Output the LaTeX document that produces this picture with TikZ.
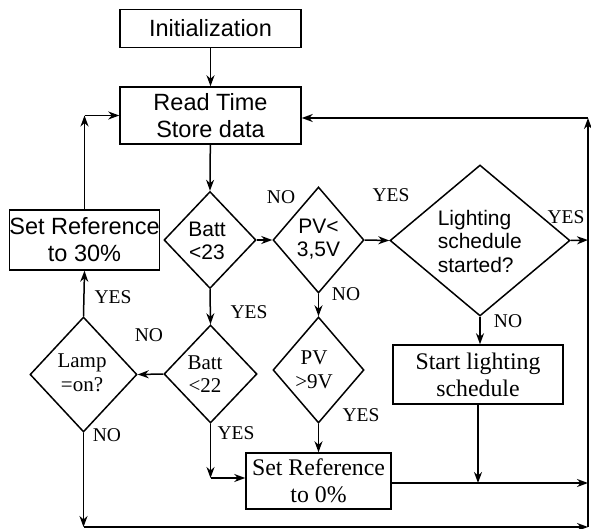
\documentclass[tikz,border=0pt]{standalone}
\usepackage{fontspec}
\setmainfont{Liberation Serif}
\newfontfamily\arialfont{Liberation Sans}
\usetikzlibrary{shapes.geometric,arrows.meta}
\begin{document}
\begin{tikzpicture}[x=1pt,y=-1pt,
  line width=1.5pt,
  arr/.style={-{Stealth[length=11pt,width=8pt,inset=3.5pt]}},
  boxA/.style={draw,rectangle,inner sep=0pt,font=\arialfont\fontsize{23.5}{27}\selectfont,align=center},
  boxT/.style={draw,rectangle,inner sep=0pt,font=\fontsize{23.8}{27}\selectfont,align=center},
  dia/.style={draw,diamond,inner sep=0pt},
  dtxtA/.style={inner sep=0pt,font=\arialfont\fontsize{21}{23.5}\selectfont,align=center},
  dtxtT/.style={inner sep=0pt,font=\fontsize{21}{23.5}\selectfont,align=center},
  lbl/.style={inner sep=0pt,font=\fontsize{19.5}{21}\selectfont}
]
\useasboundingbox (0,0) rectangle (591,529);

% boxes
\node[boxA,minimum width=181pt,minimum height=38pt] (init) at (210.5,28.5) {Initialization};
\node[boxA,minimum width=181pt,minimum height=57pt] (read) at (210.5,115.5) {Read Time\\Store data};
\node[boxA,minimum width=145pt,minimum height=60pt] (ref30) at (84.5,240) {Set Reference\\to 30\%};
\node[boxT,minimum width=170pt,minimum height=59pt] (start) at (478,374.5) {Start lighting\\schedule};
\node[boxT,minimum width=145pt,minimum height=56pt] (ref0) at (318.5,481) {Set Reference\\to 0\%};

% diamonds
\node[dia,minimum width=92pt,minimum height=97pt] (b23) at (210,240) {};
\node[dtxtA] at (207,241) {Batt\\<23};
\node[dia,minimum width=91pt,minimum height=106pt] (pv35) at (318.5,240) {};
\node[dtxtA] at (318.5,239) {PV<\\3,5V};
\node[dia,minimum width=180pt,minimum height=151pt] (light) at (480,240.5) {};
\node[dtxtA,align=left,anchor=west] at (437,241) {Lighting\\schedule\\started?};
\node[dia,minimum width=91pt,minimum height=106pt] (pv9) at (318.5,370) {};
\node[dtxtT] at (314,370) {PV\\>9V};
\node[dia,minimum width=93pt,minimum height=98pt] (b22) at (210.5,374) {};
\node[dtxtT] at (205,374) {Batt\\<22};
\node[dia,minimum width=107pt,minimum height=115pt] (lamp) at (83.5,374.5) {};
\node[dtxtT] at (82,373) {Lamp\\=on?};

% corner coordinates
\coordinate (c30) at (ref30.north |- read.west);
\coordinate (rtop) at (588,118);
\coordinate (rbot) at (588,527);
\coordinate (lbot) at (lamp.south |- rbot);
\coordinate (b22c) at (210.5,478);
\coordinate (ref0r) at (588,483);
\coordinate (lightr) at (588,240);
\coordinate (startb) at (start.south |- ref0r);

% connectors
\draw[arr] (init) -- (read);
\draw[arr] (read) -- (b23.north);
\draw[arr] (b23.east) -- (pv35.west);
\draw[arr] (pv35.east) -- (light.west);
\draw[arr] (light.east) -- (lightr);
\draw[arr] (pv35.south) -- (pv9.north);
\draw[arr] (pv9.south) -- (ref0.north -| pv9.south);
\draw[arr] (b23.south) -- (b22.north);
\draw[arr] (b22.west) -- (lamp.east);
\draw[arr] (lamp.north) -- (ref30.south);
\draw[arr] (ref30.north) -- (c30);
\draw[arr] (c30) -- (read.west);
\draw[arr] (b22.south) -- (b22c);
\draw[arr] (b22c) -- (ref0.west |- b22c);
\draw[arr] (ref0.east |- ref0r) -- (ref0r);
\draw[arr] (light.south) -- (start.north -| light.south);
\draw[arr] (start.south) -- (startb);
\draw[arr] (lamp.south) -- (lbot);
\draw[arr] (lbot) -- (rbot);
\draw[arr] (rbot) -- (rtop);
\draw[arr] (rtop) -- (read.east |- rtop);

% labels
\node[lbl] (l1) at (281,197) {NO};
\node[lbl] (l2) at (391,195) {YES};
\node[lbl] (l3) at (566,217) {YES};
\node[lbl] (l4) at (346,294) {NO};
\node[lbl] (l5) at (361,415) {YES};
\node[lbl] (l6) at (249,312) {YES};
\node[lbl] (l7) at (149,335) {NO};
\node[lbl] (l8) at (113,297) {YES};
\node[lbl] (l9) at (107,435) {NO};
\node[lbl] (l10) at (236,433) {YES};
\node[lbl] (l11) at (508,321) {NO};
\end{tikzpicture}
\end{document}
